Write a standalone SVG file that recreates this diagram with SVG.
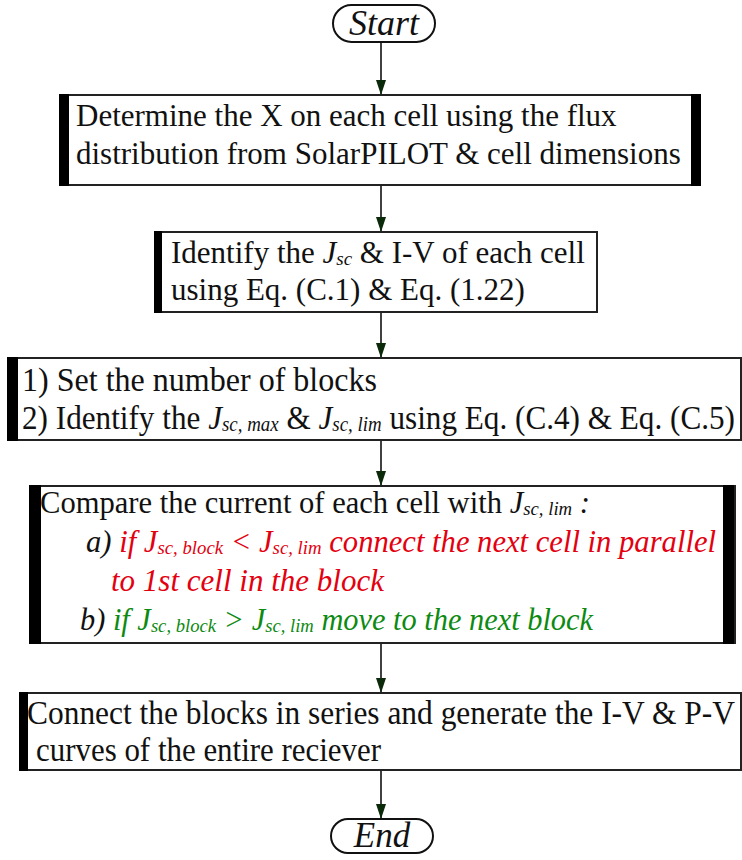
<svg xmlns="http://www.w3.org/2000/svg" width="742" height="860" viewBox="0 0 742 860">
<defs>
<marker id="ah" markerUnits="userSpaceOnUse" viewBox="0 0 15 10" markerWidth="15" markerHeight="10" refX="15" refY="5" orient="auto">
<path d="M0,0 L15,5 L0,10 z" fill="#0a2a0a"/>
</marker>
<style>
.t{font-family:"Liberation Serif","Times New Roman",serif;font-size:31px;fill:#111}
.tall{font-size:33px}
.i{font-style:italic}
.sub{font-size:19px;font-style:italic}
.tall .sub{font-size:20px}
.red{fill:#e3000f}
.grn{fill:#0d8a12}
.box{fill:#fff;stroke:#222;stroke-width:2}
.bar{fill:#000}
.pill{fill:#fff;stroke:#111;stroke-width:2}
.term{font-family:"Liberation Serif","Times New Roman",serif;font-style:italic;font-size:36px;fill:#111;text-anchor:middle}
.con{stroke:#111;stroke-width:1.6;fill:none;marker-end:url(#ah)}
</style>
</defs>
<rect width="742" height="860" fill="#fff"/>
<g id="connectors">
<line class="con" x1="381" y1="42" x2="381" y2="95"/>
<line class="con" x1="381" y1="185" x2="381" y2="232"/>
<line class="con" x1="381" y1="312" x2="381" y2="358"/>
<line class="con" x1="381" y1="440" x2="381" y2="486"/>
<line class="con" x1="381" y1="643" x2="381" y2="693"/>
<line class="con" x1="381" y1="770" x2="381" y2="819"/>
</g>
<g id="start">
<rect class="pill" x="333" y="5" width="102" height="37" rx="18.5"/>
<text class="term" x="384" y="35">Start</text>
</g>
<g id="step1">
<rect class="box" x="60" y="95" width="640" height="90"/>
<rect class="bar" x="59" y="94" width="10" height="92"/>
<rect class="bar" x="691" y="94" width="10" height="92"/>
<text class="t" x="76" y="126">Determine the X on each cell using the flux</text>
<text class="t" x="76" y="164">distribution from SolarPILOT &amp; cell dimensions</text>
</g>
<g id="step2">
<rect class="box" x="155" y="232" width="442" height="80"/>
<rect class="bar" x="154" y="231" width="8" height="82"/>
<text class="t" x="171" y="263">Identify the <tspan class="i">J</tspan><tspan class="sub" dy="2">sc</tspan><tspan dy="-2"> &amp; I-V of each cell</tspan></text>
<text class="t" x="171" y="300">using Eq. (C.1) &amp; Eq. (1.22)</text>
</g>
<g id="step3">
<rect class="box" x="8" y="358" width="733" height="82"/>
<rect class="bar" x="7" y="357" width="11" height="84"/>
<text class="t tall" x="22" y="391" textLength="355" lengthAdjust="spacingAndGlyphs">1) Set the number of blocks</text>
<text class="t tall" x="22" y="429" textLength="713" lengthAdjust="spacingAndGlyphs">2) Identify the <tspan class="i">J</tspan><tspan class="sub" dy="2">sc, max</tspan><tspan dy="-2"> &amp; </tspan><tspan class="i">J</tspan><tspan class="sub" dy="2">sc, lim</tspan><tspan dy="-2"> using Eq. (C.4) &amp; Eq. (C.5)</tspan></text>
</g>
<g id="step4">
<rect class="box" x="30" y="486" width="705" height="157"/>
<rect class="bar" x="29" y="485" width="12" height="159"/>
<rect class="bar" x="723" y="485" width="11" height="159"/>
<text class="t" x="40" y="513" textLength="550" lengthAdjust="spacingAndGlyphs">Compare the current of each cell with <tspan class="i">J</tspan><tspan class="sub" dy="2">sc, lim</tspan><tspan class="i" dy="-2"> :</tspan></text>
<text class="t i" x="86" y="552" textLength="630" lengthAdjust="spacingAndGlyphs">a) <tspan class="red">if J</tspan><tspan class="sub red" dy="2">sc, block</tspan><tspan class="red" dy="-2"> &lt; J</tspan><tspan class="sub red" dy="2">sc, lim</tspan><tspan class="red" dy="-2"> connect the next cell in parallel</tspan></text>
<text class="t i red" x="111" y="591">to 1st cell in the block</text>
<text class="t i" x="80" y="630" textLength="513" lengthAdjust="spacingAndGlyphs">b) <tspan class="grn">if J</tspan><tspan class="sub grn" dy="2">sc, block</tspan><tspan class="grn" dy="-2"> &gt; J</tspan><tspan class="sub grn" dy="2">sc, lim</tspan><tspan class="grn" dy="-2"> move to the next block</tspan></text>
</g>
<g id="step5">
<rect class="box" x="20" y="693" width="721" height="77"/>
<rect class="bar" x="19" y="692" width="9" height="79"/>
<text class="t tall" x="27" y="724" textLength="708" lengthAdjust="spacingAndGlyphs">Connect the blocks in series and generate the I-V &amp; P-V</text>
<text class="t tall" x="36" y="761" textLength="345" lengthAdjust="spacingAndGlyphs">curves of the entire reciever</text>
</g>
<g id="end">
<rect class="pill" x="331" y="819" width="102" height="34" rx="17"/>
<text class="term" x="382" y="847" style="font-size:35px">End</text>
</g>
</svg>
